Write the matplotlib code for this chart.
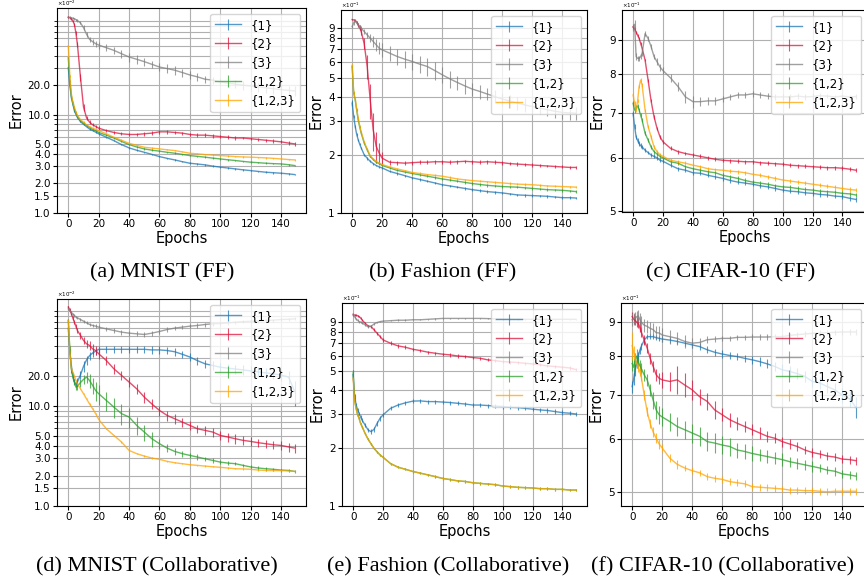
import matplotlib.pyplot as plt
from matplotlib.ticker import FixedLocator, FormatStrFormatter, NullFormatter

EPOCHS = [0, 1, 2, 3, 4, 5, 6,
          8, 10, 12, 14, 16, 18, 20,
          25, 30, 35, 40, 45, 50, 55, 60, 65, 70,
          75, 80, 85, 90, 95, 100, 105, 110, 115, 120,
          125, 130, 135, 140, 145, 149]

LABELS = ['{1}', '{2}', '{3}', '{1,2}', '{1,2,3}']
COLORS = ['tab:blue', 'crimson', 'grey', 'tab:green', 'orange']

# (a) MNIST (FF), error in units of 1e-2
A_1 = [30, 20, 15, 12.8, 11, 10.1, 9.4,
       8.5, 8.0, 7.55, 7.15, 6.9, 6.65, 6.4,
       5.9, 5.45, 4.97, 4.6, 4.35, 4.15, 3.95, 3.75, 3.6, 3.47,
       3.33, 3.21, 3.15, 3.09, 3.0, 2.93, 2.87, 2.81, 2.75, 2.7,
       2.65, 2.6, 2.57, 2.54, 2.5, 2.46]
A_2 = [98, 97, 95, 90, 83, 68, 52,
       24, 12, 9.3, 8.4, 7.9, 7.6, 7.3,
       6.9, 6.6, 6.4, 6.3, 6.3, 6.4, 6.5, 6.7, 6.7, 6.6,
       6.5, 6.3, 6.2, 6.2, 6.1, 6.0, 5.9, 5.8, 5.8, 5.7,
       5.6, 5.5, 5.4, 5.3, 5.15, 5.05]
A_3 = [98, 98, 97, 96, 95, 93, 91,
       86, 77, 66, 58.5, 55.4, 52.8, 51.2,
       48.1, 45.2, 41.8, 38.7, 36.7, 34.7, 32.6, 30.6, 29.5, 28.4,
       26.9, 25.4, 24.3, 23, 22.5, 21.6, 21, 20.5, 20, 19.6,
       19.2, 18.8, 18.4, 18, 17.7, 17.5]
A_12 = [38, 22, 15.5, 13, 11.5, 10.4, 9.6,
        8.7, 8.2, 7.8, 7.4, 7.1, 6.9, 6.6,
        6.2, 5.8, 5.35, 4.97, 4.7, 4.49, 4.36, 4.26, 4.15, 4.06,
        3.95, 3.84, 3.77, 3.7, 3.62, 3.55, 3.48, 3.42, 3.35, 3.29,
        3.25, 3.21, 3.18, 3.16, 3.1, 3.04]
A_123 = [50, 25, 16.2, 13.5, 11.9, 10.7, 9.8,
         8.9, 8.4, 7.9, 7.55, 7.3, 7.1, 6.9,
         6.4, 5.9, 5.5, 5.12, 4.88, 4.67, 4.58, 4.49, 4.4, 4.32,
         4.19, 4.06, 4.0, 3.93, 3.88, 3.84, 3.8, 3.75, 3.72, 3.7,
         3.67, 3.64, 3.6, 3.55, 3.5, 3.47]
A_1_ERR = [1.0, 0.6, 0.4, 0.3, 0.25, 0.2, 0.2,
           0.15, 0.15, 0.12, 0.12, 0.12, 0.12, 0.12,
           0.1, 0.1, 0.09, 0.08, 0.08, 0.07, 0.07, 0.07, 0.06, 0.06,
           0.06, 0.06, 0.06, 0.06, 0.05, 0.05, 0.05, 0.05, 0.05, 0.05,
           0.05, 0.05, 0.05, 0.05, 0.05, 0.05]
A_2_ERR = [2, 2, 2, 3, 3, 3, 3,
           2, 1, 0.5, 0.4, 0.3, 0.3, 0.3,
           0.25, 0.25, 0.25, 0.25, 0.25, 0.3, 0.3, 0.3, 0.3, 0.3,
           0.25, 0.25, 0.25, 0.25, 0.25, 0.25, 0.25, 0.25, 0.2, 0.2,
           0.2, 0.2, 0.2, 0.2, 0.2, 0.2]
A_3_ERR = [2, 2, 2, 2, 2, 2, 3,
           3, 4, 4, 4, 4, 4, 4,
           4, 4, 4, 4, 3.5, 3.5, 3, 3, 3, 3,
           2.5, 2.5, 2.5, 2, 2, 2, 2, 2, 2, 2,
           2, 2, 2, 2, 2, 2]
A_12_ERR = [0.8, 0.5, 0.4, 0.3, 0.25, 0.2, 0.2,
            0.15, 0.15, 0.12, 0.12, 0.12, 0.12, 0.12,
            0.1, 0.1, 0.1, 0.08, 0.08, 0.08, 0.07, 0.07, 0.07, 0.07,
            0.06, 0.06, 0.06, 0.06, 0.06, 0.06, 0.06, 0.06, 0.06, 0.06,
            0.06, 0.06, 0.06, 0.06, 0.06, 0.06]

# (b) Fashion (FF), units of 1e-1
B_1 = [3.7, 3.15, 2.8, 2.55, 2.39, 2.27, 2.17,
       2.0, 1.92, 1.85, 1.8, 1.76, 1.73, 1.71,
       1.64, 1.6, 1.56, 1.52, 1.49, 1.46, 1.43, 1.4, 1.38, 1.36,
       1.34, 1.32, 1.305, 1.29, 1.28, 1.27, 1.255, 1.24, 1.235, 1.23,
       1.225, 1.22, 1.21, 1.2, 1.2, 1.195]
B_2 = [10.0, 9.95, 9.9, 9.7, 9.4, 9.1, 8.67,
       7.5, 5.72, 3.85, 2.69, 2.21, 2.04, 1.92,
       1.83, 1.82, 1.81, 1.82, 1.83, 1.83, 1.84, 1.84, 1.83, 1.84,
       1.85, 1.84, 1.83, 1.84, 1.83, 1.82, 1.8, 1.79, 1.78, 1.77,
       1.76, 1.75, 1.74, 1.73, 1.72, 1.72]
B_3 = [9.2, 9.6, 9.9, 9.6, 9.4, 9.2, 9.02,
       8.67, 8.33, 8.01, 7.7, 7.4, 7.11, 6.97,
       6.7, 6.44, 6.24, 6.07, 5.88, 5.72, 5.45, 5.18, 4.94, 4.73,
       4.54, 4.37, 4.25, 4.12, 4.0, 3.88, 3.79, 3.7, 3.62, 3.55,
       3.48, 3.42, 3.36, 3.31, 3.29, 3.28]
B_12 = [5.72, 4.17, 3.85, 3.4, 3.03, 2.78, 2.59,
        2.3, 2.12, 1.96, 1.89, 1.83, 1.8, 1.76,
        1.71, 1.66, 1.63, 1.6, 1.575, 1.55, 1.525, 1.5, 1.48, 1.46,
        1.44, 1.42, 1.405, 1.39, 1.38, 1.37, 1.365, 1.36, 1.35, 1.34,
        1.33, 1.32, 1.315, 1.31, 1.3, 1.29]
B_123 = [5.8, 4.2, 3.9, 3.45, 3.1, 2.83, 2.62,
         2.33, 2.14, 1.98, 1.9, 1.85, 1.81, 1.78,
         1.73, 1.69, 1.655, 1.62, 1.6, 1.58, 1.565, 1.55, 1.525, 1.5,
         1.485, 1.47, 1.46, 1.45, 1.44, 1.43, 1.42, 1.41, 1.405, 1.4,
         1.39, 1.38, 1.375, 1.37, 1.365, 1.36]
B_2_ERR = [0.1, 0.1, 0.1, 0.15, 0.2, 0.3, 0.4,
           0.5, 0.8, 0.8, 0.6, 0.4, 0.25, 0.15,
           0.05, 0.04, 0.04, 0.04, 0.04, 0.04, 0.04, 0.04, 0.04, 0.04,
           0.04, 0.04, 0.04, 0.04, 0.04, 0.04, 0.04, 0.04, 0.04, 0.04,
           0.03, 0.03, 0.03, 0.03, 0.03, 0.03]
B_3_ERR = [0.2, 0.2, 0.2, 0.2, 0.2, 0.2, 0.2,
           0.25, 0.3, 0.4, 0.5, 0.5, 0.5, 0.6,
           0.6, 0.6, 0.6, 0.6, 0.6, 0.6, 0.6, 0.5, 0.5, 0.4,
           0.4, 0.35, 0.35, 0.3, 0.3, 0.3, 0.3, 0.3, 0.3, 0.3,
           0.25, 0.25, 0.25, 0.25, 0.25, 0.25]
B_SMALL_ERR = [0.12, 0.07, 0.05, 0.04, 0.03, 0.03, 0.03,
               0.03, 0.03, 0.02, 0.02, 0.02, 0.02, 0.02,
               0.02, 0.02, 0.02, 0.02, 0.02, 0.02, 0.02, 0.02, 0.02, 0.02,
               0.02, 0.02, 0.02, 0.02, 0.02, 0.02, 0.02, 0.02, 0.02, 0.02,
               0.02, 0.02, 0.02, 0.02, 0.02, 0.02]

# (c) CIFAR-10 (FF), units of 1e-1
C_1 = [6.99, 6.68, 6.45, 6.37, 6.3, 6.26, 6.23,
       6.16, 6.11, 6.06, 6.03, 6.0, 5.95, 5.93,
       5.85, 5.78, 5.75, 5.7, 5.69, 5.65, 5.62, 5.59, 5.55, 5.52,
       5.5, 5.48, 5.45, 5.43, 5.4, 5.37, 5.35, 5.34, 5.32, 5.31,
       5.29, 5.28, 5.26, 5.25, 5.22, 5.2]
C_2 = [9.42, 9.35, 9.25, 9.15, 9.05, 8.9, 8.75,
       8.4, 7.84, 7.3, 6.91, 6.64, 6.45, 6.34,
       6.2, 6.13, 6.09, 6.06, 6.03, 6.0, 5.97, 5.95, 5.94, 5.93,
       5.92, 5.92, 5.9, 5.89, 5.88, 5.87, 5.85, 5.84, 5.83, 5.82,
       5.81, 5.8, 5.8, 5.79, 5.77, 5.75]
C_3 = [9.4, 9.5, 8.5, 8.45, 8.45, 8.5, 8.6,
       9.2, 9.05, 8.8, 8.5, 8.35, 8.2, 8.1,
       7.9, 7.67, 7.4, 7.28, 7.28, 7.3, 7.3, 7.35, 7.4, 7.45,
       7.45, 7.48, 7.45, 7.42, 7.4, 7.4, 7.4, 7.42, 7.4, 7.41,
       7.43, 7.42, 7.4, 7.42, 7.4, 7.41]
C_12 = [7.24, 7.07, 7.15, 7.17, 7.07, 6.95, 6.83,
        6.53, 6.38, 6.23, 6.13, 6.08, 6.03, 6.0,
        5.92, 5.89, 5.82, 5.78, 5.75, 5.72, 5.7, 5.65, 5.62, 5.59,
        5.55, 5.52, 5.5, 5.48, 5.45, 5.43, 5.42, 5.4, 5.38, 5.37,
        5.35, 5.34, 5.33, 5.31, 5.3, 5.28]
C_123 = [7.45, 7.24, 7.07, 7.3, 7.67, 7.84, 7.71,
         7.07, 6.68, 6.45, 6.23, 6.13, 6.06, 6.03,
         5.95, 5.92, 5.89, 5.85, 5.82, 5.78, 5.76, 5.75, 5.73, 5.72,
         5.7, 5.67, 5.65, 5.62, 5.59, 5.56, 5.54, 5.52, 5.5, 5.48,
         5.46, 5.44, 5.42, 5.4, 5.38, 5.37]
C_3_ERR = [0.1, 0.15, 0.1, 0.08, 0.08, 0.08, 0.08,
           0.08, 0.08, 0.08, 0.08, 0.1, 0.1, 0.1,
           0.12, 0.12, 0.15, 0.15, 0.12, 0.1, 0.1, 0.08, 0.08, 0.08,
           0.08, 0.08, 0.08, 0.08, 0.08, 0.08, 0.08, 0.08, 0.08, 0.08,
           0.06, 0.06, 0.06, 0.06, 0.06, 0.06]
C_SMALL_ERR = [0.06, 0.06, 0.05, 0.05, 0.05, 0.05, 0.05,
               0.04, 0.04, 0.04, 0.04, 0.04, 0.04, 0.04,
               0.04, 0.04, 0.04, 0.04, 0.04, 0.04, 0.04, 0.04, 0.04, 0.04,
               0.04, 0.04, 0.04, 0.04, 0.04, 0.04, 0.04, 0.04, 0.04, 0.04,
               0.04, 0.04, 0.04, 0.04, 0.04, 0.04]

# (d) MNIST (Collaborative), units of 1e-2
D_1 = [60, 35, 25, 20, 17.5, 16.5, 17.5,
       20.5, 25, 29, 32, 34, 35.5, 37,
       37, 37, 37, 37, 37, 37, 36.5, 36.5, 36, 35,
       33, 31, 28.5, 26.5, 25.5, 24.5, 24, 23.5, 23, 22.5,
       22, 21.5, 21, 20.5, 19.5, 14]
D_2 = [98, 92, 84, 76, 69, 63, 57,
       51, 45.4, 42, 40.4, 37.4, 36, 33.4,
       28.6, 23.6, 20.3, 17.4, 14.9, 12.3, 10.5, 9.05, 8.07, 7.47,
       6.92, 6.41, 5.93, 5.71, 5.5, 5.09, 4.9, 4.71, 4.54, 4.43,
       4.3, 4.2, 4.1, 4.04, 3.9, 3.8]
D_3 = [94, 90, 87, 83, 80.6, 78, 76.4,
       73.6, 70.8, 68.1, 65.6, 64.1, 63.1, 61.7,
       59.3, 57.1, 55, 53.7, 52.9, 52.1, 53.7, 55.8, 58.4, 60.3,
       61.7, 63.1, 64.1, 65.6, 66.6, 67.1, 68, 69, 70, 70.5,
       71, 72, 72.5, 73.5, 74, 74.7]
D_12 = [72, 37, 23.6, 19.5, 17.4, 15.5, 15.8,
        17.2, 18.5, 19.5, 18, 16.1, 14.3, 13.3,
        11.4, 9.77, 8.4, 7.77, 6.41, 5.5, 4.71, 4.2, 3.8, 3.52,
        3.34, 3.21, 3.09, 2.97, 2.86, 2.75, 2.69, 2.65, 2.55, 2.46,
        2.4, 2.36, 2.33, 2.29, 2.27, 2.22]
D_123 = [72, 35, 24, 21.8, 19.9, 18, 16.7,
         14.9, 13.3, 11.8, 10.5, 9.4, 8.4, 7.36,
         5.93, 5.09, 4.37, 3.6, 3.34, 3.16, 3.02, 2.93, 2.8, 2.71,
         2.65, 2.59, 2.55, 2.51, 2.47, 2.44, 2.4, 2.36, 2.35, 2.33,
         2.29, 2.27, 2.26, 2.26, 2.24, 2.22]
D_1_ERR = [3, 2, 1.5, 1.2, 1, 1, 1.5,
           2, 3, 3, 3, 3, 3, 3,
           3, 3, 3, 3, 3, 3, 3, 3, 3, 3,
           3, 3, 2.5, 2.5, 2.5, 2.5, 2.5, 2.5, 2.5, 2.5,
           2.5, 2.5, 2.5, 2.5, 3, 4]
D_2_ERR = [3, 3, 3, 3, 3, 3, 3,
           4, 4, 4, 4, 4, 3.5, 3.5,
           3, 2.5, 2, 2, 1.8, 1.5, 1.2, 1.0, 0.9, 0.8,
           0.7, 0.7, 0.6, 0.6, 0.6, 0.5, 0.5, 0.5, 0.45, 0.45,
           0.4, 0.4, 0.4, 0.4, 0.4, 0.4]
D_3_ERR = [2, 2, 2, 2, 2, 2, 2,
           2, 2.5, 2.5, 2.5, 2.5, 2.5, 2.5,
           3, 3, 3, 3, 3, 3, 3, 3, 3, 3,
           3, 3, 3, 3, 3, 3, 2.5, 2.5, 2.5, 2.5,
           2.5, 2.5, 2.5, 2.5, 2.5, 2.5]
D_12_ERR = [2, 3, 2, 1.5, 1.2, 1, 1.2,
            1.5, 2, 2.5, 3, 3, 3, 3,
            2.5, 2.2, 2, 1.8, 1.3, 1, 0.8, 0.5, 0.35, 0.3,
            0.25, 0.2, 0.2, 0.15, 0.15, 0.12, 0.12, 0.1, 0.1, 0.1,
            0.1, 0.1, 0.08, 0.08, 0.08, 0.08]
D_123_ERR = [1, 0.6, 0.4, 0.35, 0.3, 0.3, 0.25,
             0.2, 0.2, 0.15, 0.15, 0.12, 0.12, 0.1,
             0.08, 0.07, 0.06, 0.05, 0.05, 0.05, 0.04, 0.04, 0.04, 0.04,
             0.04, 0.04, 0.04, 0.04, 0.04, 0.04, 0.04, 0.04, 0.04, 0.04,
             0.04, 0.04, 0.04, 0.04, 0.04, 0.04]

# (e) Fashion (Collaborative), units of 1e-1
E_1 = [4.8, 3.7, 3.34, 3.15, 3.02, 2.9, 2.79,
       2.63, 2.48, 2.43, 2.5, 2.68, 2.85, 2.97,
       3.21, 3.34, 3.43, 3.5, 3.51, 3.48, 3.48, 3.46, 3.44, 3.41,
       3.38, 3.34, 3.34, 3.32, 3.3, 3.28, 3.25, 3.24, 3.21, 3.18,
       3.15, 3.13, 3.09, 3.05, 3.03, 3.0]
E_2 = [9.8, 9.79, 9.75, 9.7, 9.61, 9.45, 9.23,
       8.87, 8.6, 8.53, 8.2, 7.88, 7.57, 7.27,
       6.99, 6.77, 6.66, 6.5, 6.4, 6.28, 6.2, 6.13, 6.08, 6.0,
       5.96, 5.89, 5.84, 5.73, 5.68, 5.61, 5.58, 5.55, 5.5, 5.46,
       5.4, 5.33, 5.29, 5.25, 5.2, 5.1]
E_3 = [9.9, 9.6, 9.3, 9.2, 9.05, 9.0, 8.9,
       8.7, 8.5, 8.55, 8.8, 8.95, 9.05, 9.1,
       9.15, 9.2, 9.2, 9.25, 9.25, 9.3, 9.35, 9.4, 9.4, 9.4,
       9.4, 9.4, 9.4, 9.38, 9.35, 9.35, 9.33, 9.32, 9.3, 9.3,
       9.3, 9.3, 9.3, 9.3, 9.3, 9.3]
E_12 = [4.9, 3.55, 3.21, 2.97, 2.85, 2.68, 2.58,
        2.38, 2.22, 2.1, 1.99, 1.91, 1.84, 1.79,
        1.66, 1.59, 1.55, 1.51, 1.48, 1.45, 1.42, 1.39, 1.37, 1.35,
        1.34, 1.32, 1.31, 1.3, 1.29, 1.27, 1.26, 1.25, 1.245, 1.24,
        1.23, 1.23, 1.22, 1.22, 1.21, 1.21]
E_123 = [4.6, 3.5, 3.2, 2.97, 2.84, 2.68, 2.58,
         2.38, 2.22, 2.1, 1.99, 1.91, 1.84, 1.79,
         1.66, 1.59, 1.55, 1.51, 1.48, 1.45, 1.42, 1.39, 1.37, 1.35,
         1.34, 1.32, 1.31, 1.3, 1.29, 1.27, 1.26, 1.25, 1.245, 1.24,
         1.23, 1.23, 1.22, 1.22, 1.21, 1.21]
E_1_ERR = [0.3, 0.1, 0.08, 0.07, 0.06, 0.06, 0.06,
           0.06, 0.06, 0.07, 0.08, 0.08, 0.08, 0.08,
           0.08, 0.08, 0.08, 0.08, 0.08, 0.08, 0.08, 0.08, 0.08, 0.08,
           0.08, 0.08, 0.08, 0.08, 0.08, 0.08, 0.08, 0.08, 0.08, 0.08,
           0.08, 0.08, 0.08, 0.08, 0.08, 0.08]
E_2_ERR = [0.1, 0.1, 0.1, 0.1, 0.1, 0.1, 0.12,
           0.12, 0.12, 0.12, 0.15, 0.15, 0.15, 0.15,
           0.15, 0.15, 0.15, 0.12, 0.12, 0.12, 0.12, 0.12, 0.12, 0.12,
           0.1, 0.1, 0.1, 0.1, 0.1, 0.1, 0.1, 0.1, 0.1, 0.1,
           0.1, 0.1, 0.1, 0.1, 0.1, 0.1]
E_3_ERR = [0.1, 0.1, 0.1, 0.1, 0.1, 0.1, 0.1,
           0.1, 0.1, 0.1, 0.1, 0.1, 0.08, 0.08,
           0.08, 0.08, 0.08, 0.08, 0.08, 0.08, 0.08, 0.08, 0.08, 0.08,
           0.08, 0.08, 0.08, 0.08, 0.08, 0.08, 0.08, 0.08, 0.08, 0.08,
           0.08, 0.08, 0.08, 0.08, 0.08, 0.08]
E_SMALL_ERR = [0.2, 0.05, 0.04, 0.03, 0.03, 0.03, 0.03,
               0.02, 0.02, 0.02, 0.02, 0.02, 0.02, 0.02,
               0.02, 0.02, 0.02, 0.02, 0.02, 0.02, 0.02, 0.02, 0.02, 0.02,
               0.02, 0.02, 0.02, 0.02, 0.02, 0.02, 0.02, 0.02, 0.02, 0.02,
               0.02, 0.02, 0.02, 0.02, 0.02, 0.02]

# (f) CIFAR-10 (Collaborative), units of 1e-1
F_1 = [7.2, 7.4, 7.63, 7.8, 8.0, 8.15, 8.27,
       8.46, 8.56, 8.56, 8.56, 8.53, 8.51, 8.49,
       8.46, 8.42, 8.37, 8.32, 8.27, 8.18, 8.11, 8.06, 8.02, 7.99,
       7.94, 7.9, 7.85, 7.79, 7.72, 7.63, 7.59, 7.53, 7.46, 7.33,
       7.29, 7.2, 7.12, 6.99, 6.9, 6.7]
F_2 = [9.18, 9.1, 9.05, 9.0, 8.97, 8.85, 8.71,
       8.46, 8.23, 7.94, 7.72, 7.5, 7.41, 7.37,
       7.33, 7.37, 7.24, 7.12, 6.95, 6.84, 6.64, 6.53, 6.42, 6.34,
       6.27, 6.2, 6.13, 6.06, 6.02, 5.95, 5.9, 5.85, 5.78, 5.73,
       5.7, 5.66, 5.64, 5.6, 5.59, 5.57]
F_3 = [9.08, 9.1, 9.13, 9.17, 9.2, 9.1, 9.0,
       8.91, 8.87, 8.81, 8.77, 8.68, 8.67, 8.61,
       8.56, 8.51, 8.42, 8.37, 8.39, 8.47, 8.49, 8.51, 8.51, 8.54,
       8.54, 8.55, 8.55, 8.55, 8.56, 8.56, 8.6, 8.62, 8.64, 8.66,
       8.67, 8.68, 8.69, 8.7, 8.7, 8.7]
F_12 = [7.8, 7.7, 7.9, 8.0, 7.85, 7.75, 7.67,
        7.5, 7.37, 7.12, 6.87, 6.64, 6.53, 6.48,
        6.38, 6.27, 6.2, 6.13, 6.06, 5.95, 5.92, 5.88, 5.85, 5.78,
        5.75, 5.71, 5.68, 5.65, 5.62, 5.59, 5.55, 5.52, 5.49, 5.46,
        5.43, 5.39, 5.37, 5.32, 5.3, 5.28]
F_123 = [8.3, 8.1, 7.95, 7.8, 7.7, 7.6, 7.46,
         7.0, 6.6, 6.33, 6.15, 6.02, 5.9, 5.82,
         5.62, 5.5, 5.43, 5.38, 5.34, 5.27, 5.24, 5.22, 5.18, 5.16,
         5.14, 5.09, 5.08, 5.07, 5.06, 5.05, 5.03, 5.03, 5.02, 5.02,
         5.01, 5.0, 5.01, 5.01, 5.01, 5.01]
F_1_ERR = [0.15, 0.15, 0.15, 0.12, 0.12, 0.1, 0.1,
           0.1, 0.08, 0.08, 0.08, 0.08, 0.08, 0.08,
           0.08, 0.08, 0.08, 0.08, 0.1, 0.1, 0.1, 0.1, 0.1, 0.1,
           0.1, 0.1, 0.12, 0.12, 0.12, 0.15, 0.15, 0.15, 0.15, 0.15,
           0.15, 0.15, 0.18, 0.18, 0.2, 0.25]
F_2_ERR = [0.15, 0.15, 0.15, 0.15, 0.15, 0.15, 0.15,
           0.15, 0.15, 0.15, 0.15, 0.15, 0.15, 0.2,
           0.25, 0.35, 0.3, 0.25, 0.2, 0.2, 0.2, 0.15, 0.15, 0.15,
           0.12, 0.12, 0.12, 0.12, 0.1, 0.1, 0.1, 0.1, 0.08, 0.08,
           0.08, 0.08, 0.08, 0.08, 0.08, 0.08]
F_3_ERR = [0.2, 0.2, 0.2, 0.2, 0.2, 0.2, 0.2,
           0.2, 0.2, 0.2, 0.2, 0.2, 0.2, 0.2,
           0.2, 0.2, 0.2, 0.15, 0.12, 0.1, 0.1, 0.08, 0.08, 0.08,
           0.08, 0.08, 0.08, 0.08, 0.08, 0.08, 0.08, 0.08, 0.08, 0.08,
           0.08, 0.08, 0.08, 0.08, 0.08, 0.08]
F_12_ERR = [0.2, 0.2, 0.2, 0.2, 0.15, 0.15, 0.15,
            0.15, 0.15, 0.15, 0.2, 0.2, 0.2, 0.2,
            0.2, 0.2, 0.2, 0.2, 0.2, 0.2, 0.2, 0.18, 0.18, 0.15,
            0.15, 0.15, 0.12, 0.12, 0.12, 0.12, 0.1, 0.1, 0.1, 0.1,
            0.08, 0.08, 0.08, 0.08, 0.08, 0.08]
F_123_ERR = [0.4, 0.2, 0.15, 0.12, 0.12, 0.12, 0.12,
             0.12, 0.1, 0.1, 0.1, 0.1, 0.1, 0.08,
             0.08, 0.08, 0.06, 0.06, 0.06, 0.06, 0.06, 0.06, 0.06, 0.06,
             0.06, 0.06, 0.06, 0.06, 0.06, 0.06, 0.06, 0.06, 0.06, 0.06,
             0.06, 0.06, 0.06, 0.06, 0.06, 0.06]

MNIST_TICKS = [1.0, 1.5, 2.0, 3.0, 4.0, 5.0, 10.0, 20.0]
FASHION_TICKS = [1, 2, 3, 4, 5, 6, 7, 8, 9]
CIFAR_TICKS = [5, 6, 7, 8, 9]

W, H = 864, 583
fig = plt.figure(figsize=(W / 100, H / 100), dpi=100)


def draw_panel(box, series, errs, ticks, ylim, fmt, power, caption, cap_xy):
    left, top, right, bottom = box
    ax = fig.add_axes([left / W, 1 - bottom / H, (right - left) / W, (bottom - top) / H])
    for vals, err, lab, col in zip(series, errs, LABELS, COLORS):
        ax.errorbar(EPOCHS, vals, yerr=err, color=col, label=lab,
                    linewidth=1.0, elinewidth=0.8, alpha=0.75)
    ax.set_yscale('log')
    ax.set_ylim(*ylim)
    ax.yaxis.set_major_locator(FixedLocator(ticks))
    ax.yaxis.set_major_formatter(FormatStrFormatter(fmt))
    ax.yaxis.set_minor_formatter(NullFormatter())
    ax.set_xticks([0, 20, 40, 60, 80, 100, 120, 140])
    ax.tick_params(which='major', labelsize=7.5, length=3, pad=1.5)
    ax.tick_params(which='minor', length=2)
    ax.grid(True, which='both')
    ax.set_xlabel('Epochs', fontsize=10.5, labelpad=1)
    ax.set_ylabel('Error', fontsize=10.5, labelpad=3)
    # offset text, kept inside the figure even where the panel touches the top
    ax.text(0.0, 1.0, r'$\times10^{%d}$' % power, transform=ax.transAxes,
            fontsize=4, ha='left', va='bottom', clip_on=False)
    ax.legend(loc='upper right', fontsize=8.5, handlelength=2.2)
    fig.text(cap_xy[0] / W, 1 - cap_xy[1] / H, caption, ha='center', va='center',
             fontsize=16, family='Liberation Serif')
    return ax


draw_panel((57, 8, 306, 213), [A_1, A_2, A_3, A_12, A_123],
           [A_1_ERR, A_2_ERR, A_3_ERR, A_12_ERR, A_12_ERR],
           MNIST_TICKS, (1.0, 122), '%.1f', -2, '(a) MNIST (FF)', (162, 273))
draw_panel((341, 10, 587, 213), [B_1, B_2, B_3, B_12, B_123],
           [B_SMALL_ERR, B_2_ERR, B_3_ERR, B_SMALL_ERR, B_SMALL_ERR],
           FASHION_TICKS, (1.0, 11.2), '%d', -1, '(b) Fashion (FF)', (443, 273))
draw_panel((622, 10, 867, 212), [C_1, C_2, C_3, C_12, C_123],
           [C_SMALL_ERR, C_SMALL_ERR, C_3_ERR, C_SMALL_ERR, C_SMALL_ERR],
           CIFAR_TICKS, (4.98, 9.98), '%d', -1, '(c) CIFAR-10 (FF)', (731, 273))
draw_panel((57, 299, 306, 506), [D_1, D_2, D_3, D_12, D_123],
           [D_1_ERR, D_2_ERR, D_3_ERR, D_12_ERR, D_123_ERR],
           MNIST_TICKS, (1.0, 118), '%.1f', -2, '(d) MNIST (Collaborative)', (157, 567))
draw_panel((342, 303, 587, 506), [E_1, E_2, E_3, E_12, E_123],
           [E_1_ERR, E_2_ERR, E_3_ERR, E_SMALL_ERR, E_SMALL_ERR],
           FASHION_TICKS, (1.0, 11.3), '%d', -1, '(e) Fashion (Collaborative)', (448, 567))
draw_panel((621, 303, 867, 506), [F_1, F_2, F_3, F_12, F_123],
           [F_1_ERR, F_2_ERR, F_3_ERR, F_12_ERR, F_123_ERR],
           CIFAR_TICKS, (4.76, 9.62), '%d', -1, '(f) CIFAR-10 (Collaborative)', (723, 567))

fig.savefig('out.png', dpi=100)
